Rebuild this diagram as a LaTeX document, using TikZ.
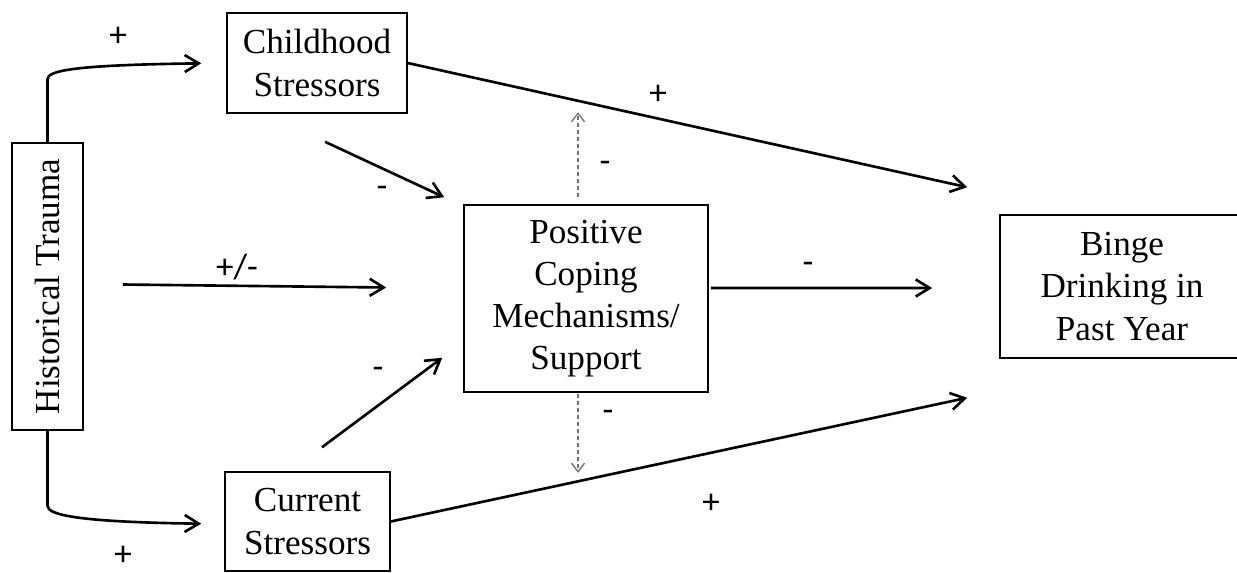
\documentclass[tikz,border=0pt]{standalone}
\usepackage{fontspec}
\setmainfont{Liberation Serif}
\newfontfamily\signfont{Carlito}
\usepackage{tikz}
\usetikzlibrary{calc, arrows.meta}
\tikzstyle{pathway} = [line width=1.5pt,-{Straight Barb[length=0.28cm,width=0.34cm]}]
\tikzstyle{moderate} = [line width=0.75pt,black!55,dash pattern=on 2.5pt off 1.5pt,-{Straight Barb[length=0.17cm,width=0.26cm]}]

\begin{document}
\begin{tikzpicture}[x=0.02cm,y=-0.02cm]
                    \tikzstyle{every node}=[font=\fontsize{20}{24}\selectfont]
                    \tikzstyle{box} = [rectangle, draw=black, line width=0.9pt, inner sep=0pt, align=center]
                    \tikzstyle{sign} = [font=\signfont\fontsize{20}{24}\selectfont]

                    \useasboundingbox (0,0) rectangle (1237,572);

                    \node[box, minimum width=1.42cm, minimum height=5.74cm](trauma) at (47.5,286.5) {\rotatebox{90}{Historical Trauma}};
                    \node[box, minimum width=3.6cm, minimum height=2cm](child) at (317,63) {Childhood\\Stressors};
                    \node[box, minimum width=3.3cm, minimum height=1.98cm](current) at (307.5,521.5) {Current\\Stressors};
                    \node[box, minimum width=4.88cm, minimum height=3.74cm](coping) at (586,298.5) {Positive\\Coping\\Mechanisms/\\Support};
                    \node[box, minimum width=4.88cm, minimum height=2.86cm](binge) at (1122,286.5) {Binge\\Drinking in\\Past Year};

                    \draw[pathway, shorten >=0.5cm] (trauma.north) -- ++(0,-63) .. controls +(0,-9) and +(-150,2) .. (child.west);
                    \draw[pathway, shorten >=0.46cm] (trauma.south) -- ++(0,75) .. controls +(0,9) and +(-148,-2) .. ($(current.west)+(0,2.5)$);
                    \draw[pathway] ($(trauma.east)+(39,-2)$) -- ($(coping.west)+(-77,-11)$);
                    \draw[pathway] ($(child.south)+(8,28)$) -- ($(coping.north west)+(-19,-7)$);
                    \draw[pathway] ($(current.north)+(14.5,-24)$) -- ($(coping.south west)+(-21,-35)$);
                    \draw[pathway] (child.east) -- ($(binge.north west)+(-32,-27)$);
                    \draw[pathway] (current.east) -- ($(binge.south west)+(-32,39)$);
                    \draw[pathway] ($(coping.east)+(2,-10.5)$) -- ($(binge.west)+(-67,1.5)$);

                    \draw[moderate] ($(coping.north)+(-8,-7)$) -- ($(coping.north)+(-8,-92)$);
                    \draw[moderate] ($(coping.south)+(-8,1)$) -- ($(coping.south)+(-8,80)$);

                    \node[sign](plusup) at (118,37) {+};
                    \node[sign](plusdown) at (123,556) {+};
                    \node[sign](mixed) at (237,267) {+/-};
                    \node[sign](minuschild) at (382,192) {-};
                    \node[sign](minuscurrent) at (378,373) {-};
                    \node[sign](pluschild) at (658,95) {+};
                    \node[sign](pluscurrent) at (711,504) {+};
                    \node[sign](minusup) at (605,167) {-};
                    \node[sign](minusdown) at (608,416) {-};
                    \node[sign](minuscoping) at (808,268) {-};
\end{tikzpicture}
\end{document}
